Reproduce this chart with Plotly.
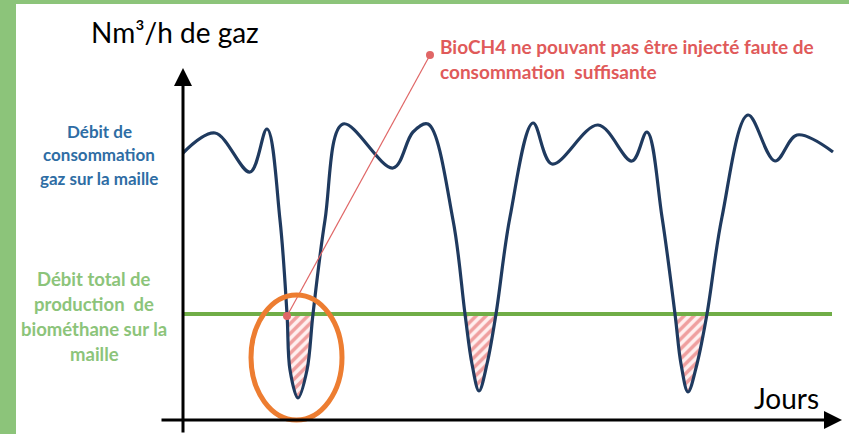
import plotly.graph_objects as go

# ---- data (arbitrary units: days, Nm3/h) ----
days = [0, 3.2, 6.7, 8.4, 9.7, 10.4, 10.7, 11.5, 12.4, 13.0, 14.2, 16.0, 21.0, 23.0, 24.5,
        27.0, 28.2, 28.9, 29.6, 30.4, 31.3, 32.7, 35.0, 36.9, 41.5, 44.9, 46.4,
        47.9, 49.2, 49.8, 50.5, 51.4, 52.4, 53.9, 56.5, 59.2, 61.4, 65.0]
consumption = [133.5, 143.5, 124, 145.5, 100, 53, 25, 11, 25, 53, 100, 148, 126, 144, 148,
               100, 53, 28, 14.5, 28, 53, 101.5, 148.5, 128, 147.5, 129.5, 144,
               101.5, 53, 28, 14, 28, 53, 101.5, 152.5, 129.5, 142.5, 134]
production_level = 53
production_days = [0, 64.9]
dip_ranges = [(5, 9), (16, 20), (28, 32)]   # index ranges of the curve below production

callout_days = [10.4, 24.7]
callout_vals = [52, 182.5]

# pixel-equivalent axis ranges
X_RANGE = [-18.3, 66.6]
Y_RANGE = [-7, 210]

BLUE = "#1f3a5f"
GREEN = "#70ad47"
RED = "#e06666"
ORANGE = "#ed7d31"
FONT = "Lato, 'Open Sans', sans-serif"

fig = go.Figure()

# hatched areas (curve below production)
for a, b in dip_ranges:
    fig.add_trace(go.Scatter(
        x=days[a:b + 1], y=consumption[a:b + 1], mode="lines",
        line=dict(width=0, shape="spline", smoothing=1.0, color=RED),
        fill="toself", fillcolor="rgba(255,255,255,0)",
        fillpattern=dict(shape="/", fgcolor="#e05050", bgcolor="rgba(255,236,236,0.8)",
                         size=7, solidity=0.5),
        hoverinfo="skip", showlegend=False))

# production line
fig.add_trace(go.Scatter(
    x=production_days, y=[production_level] * 2, mode="lines",
    line=dict(color=GREEN, width=4), showlegend=False))

# consumption curve
fig.add_trace(go.Scatter(
    x=days, y=consumption, mode="lines",
    line=dict(color=BLUE, width=3.2, shape="spline", smoothing=1.0), showlegend=False))

# callout line
fig.add_trace(go.Scatter(
    x=callout_days, y=callout_vals, mode="lines+markers",
    line=dict(color=RED, width=1.2), marker=dict(color=RED, size=8),
    showlegend=False))

ann = []
# axes with arrow heads
ann.append(dict(x=0, y=176, ax=0, ay=-7, xref="x", yref="y", axref="x", ayref="y",
                showarrow=True, arrowhead=2, arrowsize=1.2, arrowwidth=3,
                arrowcolor="black", text="", standoff=0, startstandoff=0))
ann.append(dict(x=65.9, y=0, ax=-2.3, ay=0, xref="x", yref="y", axref="x", ayref="y",
                showarrow=True, arrowhead=2, arrowsize=1.2, arrowwidth=3,
                arrowcolor="black", text="", standoff=0, startstandoff=0))


def txt(t, xpx, ypx, size, color, bold=False):
    ann.append(dict(text=f"<b>{t}</b>" if bold else t, x=xpx / 849, y=1 - ypx / 434,
                    xref="paper", yref="paper", xanchor="center", yanchor="middle",
                    showarrow=False, font=dict(family=FONT, size=size, color=color)))


txt("Nm³/h de gaz", 175, 32, 28, "black")
txt("Jours", 786, 398, 28, "black")
for i, line in enumerate(["Débit de", "consommation", "gaz sur la maille"]):
    txt(line, 99, 131 + i * 23.5, 17, "#2e6da4", True)
for i, line in enumerate(["Débit total de", "production  de", "biométhane sur la", "maille"]):
    txt(line, 94, 279 + i * 25, 18.5, "#8cc47a", True)

ann.append(dict(text="<b>BioCH4 ne pouvant pas être injecté faute de<br>consommation  suffisante</b>",
                x=438 / 849, y=1 - 33 / 434, xref="paper", yref="paper",
                xanchor="left", yanchor="top", align="left", showarrow=False,
                font=dict(family=FONT, size=19, color="#e05a5a")))

shapes = [
    dict(type="rect", xref="paper", yref="paper", x0=0, x1=16 / 849, y0=0, y1=1,
         fillcolor="#8cc47a", line=dict(width=0)),
    dict(type="rect", xref="paper", yref="paper", x0=0, x1=1, y0=1 - 4 / 434, y1=1,
         fillcolor="#8cc47a", line=dict(width=0)),
    dict(type="circle", xref="x", yref="y", x0=6.8, x1=15.9, y0=0, y1=62.5,
         line=dict(color=ORANGE, width=5), layer="above"),
]

fig.update_layout(
    width=849, height=434, margin=dict(l=0, r=0, t=0, b=0),
    paper_bgcolor="white", plot_bgcolor="white",
    xaxis=dict(range=X_RANGE, visible=False, fixedrange=True),
    yaxis=dict(range=Y_RANGE, visible=False, fixedrange=True),
    annotations=ann, shapes=shapes, showlegend=False,
)

fig.write_html("out.html", config={"displayModeBar": False},
               post_script="document.body.style.margin='0px';document.body.style.overflow='hidden';")
